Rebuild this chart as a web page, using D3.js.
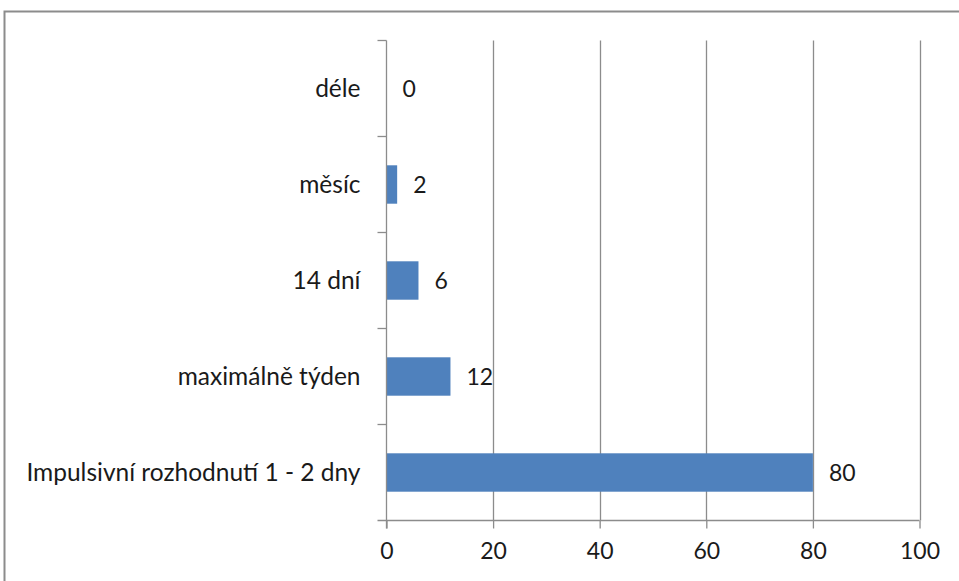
<!DOCTYPE html>
<html>
<head>
<meta charset="utf-8">
<script src="https://cdn.jsdelivr.net/npm/d3@7"></script>
<style>
  html, body { margin: 0; padding: 0; background: #fff; }
  svg { display: block; }
  text { font-family: Lato, "Open Sans", sans-serif; fill: #1a1a1a; }
</style>
</head>
<body>
<svg id="chart" width="959" height="581"></svg>
<script>
// Doba rozhodování o nákupu (počet respondentů)
const categories = ["déle", "měsíc", "14 dní", "maximálně týden", "Impulsivní rozhodnutí 1 - 2 dny"];
const values = [0, 2, 6, 12, 80];
const xTicks = [0, 20, 40, 60, 80, 100];

const W = 959, H = 581;
const plot = { left: 386.5, right: 919.5, top: 40.5, bottom: 520.5 };
const gridColor = "#8c8c8c";
const barColor = "#4f81bd";

const svg = d3.select("#chart");

// Outer chart frame (extends past the right and bottom edges)
svg.append("rect")
  .attr("x", 4.5).attr("y", 11.5)
  .attr("width", W + 10).attr("height", H + 10)
  .attr("fill", "#fff")
  .attr("stroke", "#8c8c8c").attr("stroke-width", 2);

const x = d3.scaleLinear().domain([0, 100]).range([plot.left, plot.right]);
const y = d3.scaleBand().domain(categories)
  .range([plot.top, plot.bottom])
  .paddingInner(0.6).paddingOuter(0.3);

// Vertical gridlines
svg.append("g").selectAll("line")
  .data(xTicks.filter(t => t > 0))
  .join("line")
  .attr("x1", d => Math.round(x(d)) + 0.5).attr("x2", d => Math.round(x(d)) + 0.5)
  .attr("y1", plot.top).attr("y2", plot.bottom)
  .attr("stroke", gridColor).attr("stroke-width", 1.3);

// Bars
svg.append("g").selectAll("rect")
  .data(categories.map((c, i) => ({ c, v: values[i] })))
  .join("rect")
  .attr("x", x(0))
  .attr("y", d => y(d.c))
  .attr("width", d => x(d.v) - x(0))
  .attr("height", y.bandwidth())
  .attr("fill", barColor);

// Value labels
svg.append("g").selectAll("text")
  .data(categories.map((c, i) => ({ c, v: values[i] })))
  .join("text")
  .attr("x", d => x(d.v) + 16)
  .attr("y", d => y(d.c) + y.bandwidth() / 2)
  .attr("dy", "0.36em")
  .attr("font-size", 23)
  .text(d => d.v);

// Bottom axis
const xAxis = d3.axisBottom(x).tickValues(xTicks).tickSize(8).tickPadding(14)
  .tickFormat(d3.format("d"));
const gx = svg.append("g").attr("transform", `translate(0,${plot.bottom})`).call(xAxis);
gx.select(".domain").attr("d", `M${plot.left - 9},0H${plot.right}`);
gx.selectAll("line, path").attr("stroke", gridColor).attr("stroke-width", 1.3);
gx.selectAll("text").attr("font-size", 23).attr("fill", "#1a1a1a")
  .attr("font-family", "Lato, 'Open Sans', sans-serif");

// Left axis: ticks on band boundaries, labels centred in each band
svg.append("line")
  .attr("x1", plot.left).attr("x2", plot.left)
  .attr("y1", plot.top).attr("y2", plot.bottom + 8)
  .attr("stroke", gridColor).attr("stroke-width", 1.3);
const bounds = d3.range(categories.length).map(i => plot.top + i * y.step());
svg.append("g").selectAll("line")
  .data(bounds)
  .join("line")
  .attr("x1", plot.left - 9).attr("x2", plot.left)
  .attr("y1", d => d).attr("y2", d => d)
  .attr("stroke", gridColor).attr("stroke-width", 1.3);

svg.append("g").selectAll("text")
  .data(categories)
  .join("text")
  .attr("x", plot.left - 26)
  .attr("y", d => y(d) + y.bandwidth() / 2)
  .attr("dy", "0.36em")
  .attr("text-anchor", "end")
  .attr("font-size", 24.5)
  .text(d => d);
</script>
</body>
</html>
